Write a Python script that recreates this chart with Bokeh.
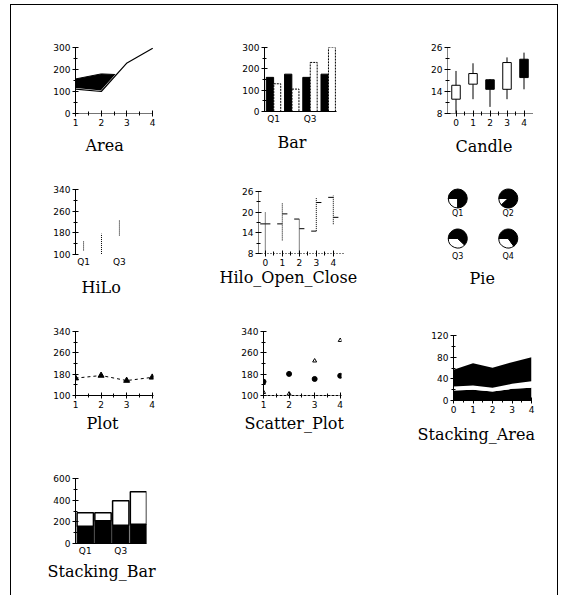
import numpy as np
from bokeh.plotting import figure
from bokeh.layouts import row, column
from bokeh.models import FixedTicker, Range1d
from bokeh.embed import file_html
from bokeh.resources import INLINE
from bokeh.core.properties import value

# ---------------- data ----------------
quarters = ["Q1", "Q2", "Q3", "Q4"]
quarter_idx = [1, 2, 3, 4]

area_x = [1, 2, 3, 4]
area_s1 = [157, 180, 175, 200]
area_s2 = [111, 100, 230, 297]

bar_s1 = [160, 175, 160, 175]
bar_s2 = [130, 105, 230, 300]

candle_x = [0, 1, 2, 3, 4]
candle_open = [11.9, 16.0, 17.2, 14.6, 22.8]
candle_close = [15.7, 18.9, 14.6, 21.9, 17.8]
candle_high = [19.6, 21.7, 17.4, 23.3, 24.6]
candle_low = [8.0, 11.9, 9.8, 11.9, 14.6]

hilo_x = [1, 2, 3]
hilo_high = [150, 177, 226]
hilo_low = [115, 102, 170]

hoc_x = [0, 1, 2, 3, 4]
hoc_high = [20.0, 22.6, 18.0, 24.3, 24.8]
hoc_low = [8.0, 11.8, 8.0, 14.5, 16.5]
hoc_open = [16.6, 16.6, 18.0, 14.5, 24.3]
hoc_close = [16.6, 19.5, 15.2, 22.8, 18.5]

pie_white_share = [0.25, 0.12, 0.38, 0.35]

plot_x = [1, 2, 3, 4]
plot_y = [165, 175, 156, 168]

scatter_x = [1, 2, 3, 4]
scatter_s1 = [152, 181, 162, 174]
scatter_s2 = [112, 106, 230, 307]

sa_x = [0, 1, 2, 3, 4]
sa_s1 = [18.5, 19.7, 16.6, 21.5, 23.4]
sa_s2 = [7.3, 8.0, 6.8, 9.3, 12.3]
sa_s3 = [30.8, 41.3, 36.9, 40.0, 44.3]

sb_s1 = [160, 209, 169, 178]
sb_s2 = [123, 74, 225, 299]

# ---------------- helpers ----------------
COLW = 182
ROWH = [157, 141, 147, 145]


def make(h, l, r, t, b, xr, yr, title, standoff, offset):
    p = figure(width=COLW, height=h, x_range=Range1d(*xr), y_range=Range1d(*yr),
               output_backend="svg", toolbar_location=None,
               min_border_left=l, min_border_right=r, min_border_top=t, min_border_bottom=b,
               title=title, title_location="below")
    p.outline_line_color = None
    p.grid.visible = False
    p.background_fill_color = "white"
    p.border_fill_color = "white"
    p.title.align = "left"
    p.title.text_font = "DejaVu Serif"
    p.title.text_font_size = "16px"
    p.title.text_font_style = "normal"
    p.title.text_color = "black"
    p.title.standoff = standoff
    p.title.offset = offset
    return p


def style_axis(ax, ticks, minor=None, labels=None, dash=None, tick=True):
    ax.ticker = FixedTicker(ticks=list(ticks), minor_ticks=list(minor) if minor is not None else [])
    ax.major_tick_in = 3 if tick else 0
    ax.major_tick_out = 3 if tick else 0
    ax.minor_tick_in = 2
    ax.minor_tick_out = 2
    ax.major_tick_line_color = "black"
    ax.minor_tick_line_color = "black"
    ax.axis_line_color = "black"
    ax.major_label_text_font = "DejaVu Sans"
    ax.major_label_text_font_size = "9px"
    ax.major_label_text_color = "black"
    ax.major_label_standoff = 2
    if dash:
        ax.axis_line_dash = dash
    if labels:
        ax.major_label_overrides = labels


def mids(t):
    t = np.asarray(t, dtype=float)
    return list((t[:-1] + t[1:]) / 2)


# ---------------- Area ----------------
p_area = make(ROWH[0], 64, 40, 42, 49, (1, 4.03), (0, 300), "Area", 11, 10)
p_area.varea(x=area_x, y1=0, y2=area_s1, fill_color="black")
p_area.line(area_x, area_s1, color="black", line_width=1)
p_area.patch(x=area_x + area_x[::-1], y=area_s2 + [0] * len(area_x),
             fill_color="white", line_color="white", line_width=2)
p_area.line(area_x, area_s2, color="black", line_width=1.2)
style_axis(p_area.yaxis[0], [0, 100, 200, 300], mids([0, 100, 200, 300]))
style_axis(p_area.xaxis[0], [1, 2, 3, 4], mids([1, 2, 3, 4]), dash="1 1")

# ---------------- Bar ----------------
p_bar = make(ROWH[0], 71, 39, 42, 51, (0.5, 4.45), (0, 300), "Bar", 8, 13)
qi = np.array(quarter_idx, dtype=float)
p_bar.vbar(x=qi - 0.2, top=bar_s1, width=0.4, fill_color="black", line_color="black")
p_bar.vbar(x=qi + 0.2, top=bar_s2, width=0.38, fill_color="white", line_color="black", line_dash="2 1")
style_axis(p_bar.yaxis[0], [0, 100, 200, 300], mids([0, 100, 200, 300]))
style_axis(p_bar.xaxis[0], [1, 3], [], labels={1: "Q1", 3: "Q3"}, tick=False)

# ---------------- Candle ----------------
p_candle = make(ROWH[0], 72, 25, 42, 49, (-0.5, 4.5), (8, 26), "Candle", 13, 8)
c_open = np.array(candle_open)
c_close = np.array(candle_close)
rising = c_close >= c_open
p_candle.segment(x0=candle_x, y0=candle_low, x1=candle_x, y1=candle_high, color="black")
p_candle.vbar(x=candle_x, bottom=np.minimum(c_open, c_close), top=np.maximum(c_open, c_close),
              width=0.5, fill_color=["white" if r else "black" for r in rising], line_color="black")
style_axis(p_candle.yaxis[0], [8, 14, 20, 26], mids([8, 14, 20, 26]), dash="1 1")
style_axis(p_candle.xaxis[0], [0, 1, 2, 3, 4], mids([0, 1, 2, 3, 4]), dash="1 1")

# ---------------- HiLo ----------------
p_hilo = make(ROWH[1], 64, 49, 27, 49, (0.55, 4.4), (100, 340), "HiLo", 13, 6)
p_hilo.segment(x0=hilo_x, y0=hilo_low, x1=hilo_x, y1=hilo_high, color="black", line_dash="1 1")
style_axis(p_hilo.yaxis[0], [100, 180, 260, 340], mids([100, 180, 260, 340]))
style_axis(p_hilo.xaxis[0], [1, 3], [], labels={1: "Q1", 3: "Q3"}, tick=False)
p_hilo.xaxis[0].axis_line_color = None

# ---------------- Hilo_Open_Close ----------------
p_hoc = make(ROWH[1], 65, 32, 29, 50, (-0.4, 4.6), (8, 26), "Hilo_Open_Close", -6, -39)
hx = np.array(hoc_x, dtype=float)
p_hoc.segment(x0=hx, y0=hoc_low, x1=hx, y1=hoc_high, color="black", line_dash="1 1")
p_hoc.segment(x0=hx - 0.3, y0=hoc_open, x1=hx, y1=hoc_open, color="black")
p_hoc.segment(x0=hx, y0=hoc_close, x1=hx + 0.3, y1=hoc_close, color="black")
style_axis(p_hoc.yaxis[0], [8, 14, 20, 26], mids([8, 14, 20, 26]), dash="1 1")
style_axis(p_hoc.xaxis[0], [0, 1, 2, 3, 4], mids([0, 1, 2, 3, 4]), dash="1 2")

# ---------------- Pie ----------------
p_pie = make(ROWH[1], 57, 24, 20, 41, (0, 4), (0, 4), "Pie", 8, 37)
p_pie.axis.visible = False
n = len(quarters)
pie_cx = [1 + 2 * (i % 2) for i in range(n)]
pie_cy = [3.2 - 2 * (i // 2) for i in range(n)]
ws = np.array(pie_white_share)
start_w = np.full(n, np.pi)
end_w = np.pi + ws * 2 * np.pi
p_pie.wedge(x=pie_cx, y=pie_cy, radius=9.5, radius_units="screen", start_angle=start_w, end_angle=end_w,
            fill_color="white", line_color="black")
p_pie.wedge(x=pie_cx, y=pie_cy, radius=9.5, radius_units="screen", start_angle=end_w, end_angle=start_w + 2 * np.pi,
            fill_color="black", line_color="black")
p_pie.text(x=pie_cx, y=pie_cy, text=quarters, y_offset=[15, 15, 18, 18], text_align="center",
           text_baseline="middle", text_font=value("DejaVu Sans"), text_font_size="8px", text_color="black")

# ---------------- Plot ----------------
p_plot = make(ROWH[2], 64, 40, 28, 55, (1, 4.05), (100, 340), "Plot", 3, 11)
p_plot.line(plot_x, plot_y, color="black", line_dash="3 3")
p_plot.scatter(plot_x, plot_y, marker="triangle", size=6, color="black")
style_axis(p_plot.yaxis[0], [100, 180, 260, 340], mids([100, 180, 260, 340]))
style_axis(p_plot.xaxis[0], [1, 2, 3, 4], mids([1, 2, 3, 4]))

# ---------------- Scatter_Plot ----------------
p_sc = make(ROWH[2], 70, 34, 28, 55, (1, 4.05), (100, 340), "Scatter_Plot", 3, -19)
p_sc.scatter(scatter_x, scatter_s1, marker="circle", size=5, color="black")
p_sc.scatter(scatter_x, scatter_s2, marker="triangle", size=4, fill_color="white", line_color="black")
style_axis(p_sc.yaxis[0], [100, 180, 260, 340], mids([100, 180, 260, 340]))
style_axis(p_sc.xaxis[0], [1, 2, 3, 4], mids([1, 2, 3, 4]), dash="3 1")

# ---------------- Stacking_Area ----------------
p_sa = make(ROWH[2], 78, 26, 32, 50, (0, 4), (0, 120), "Stacking_Area", 14, -36)
b1 = np.array(sa_s1)
b2 = b1 + np.array(sa_s2)
b3 = b2 + np.array(sa_s3)
p_sa.varea(x=sa_x, y1=0, y2=b1, fill_color="black")
p_sa.varea(x=sa_x, y1=b1, y2=b2, fill_color="white")
p_sa.varea(x=sa_x, y1=b2, y2=b3, fill_color="black")
style_axis(p_sa.yaxis[0], [0, 40, 80, 120], mids([0, 40, 80, 120]))
style_axis(p_sa.xaxis[0], [0, 1, 2, 3, 4], mids([0, 1, 2, 3, 4]))

# ---------------- Stacking_Bar ----------------
p_sb = make(ROWH[3], 64, 47, 28, 52, (0.45, 4.45), (0, 600), "Stacking_Bar", 2, -28)
s1 = np.array(sb_s1)
s2 = s1 + np.array(sb_s2)
p_sb.vbar(x=quarter_idx, bottom=0, top=s1, width=0.92, fill_color="black", line_color="black")
p_sb.vbar(x=quarter_idx, bottom=s1, top=s2, width=0.92, fill_color="white", line_color="black", line_width=1.5)
style_axis(p_sb.yaxis[0], [0, 200, 400, 600], mids([0, 200, 400, 600]))
style_axis(p_sb.xaxis[0], [1, 3], [], labels={1: "Q1", 3: "Q3"}, tick=False)

layout = column(row(column(p_area), column(p_bar), column(p_candle)),
                row(column(p_hilo), column(p_hoc), column(p_pie)),
                row(column(p_plot), column(p_sc), column(p_sa)),
                row(column(p_sb)))
layout.styles = {"border-top": "1px solid black", "border-left": "1px solid black",
                 "border-right": "1px solid black", "margin-left": "10px", "margin-top": "4px"}

open("out.html", "w").write(file_html(layout, INLINE))
